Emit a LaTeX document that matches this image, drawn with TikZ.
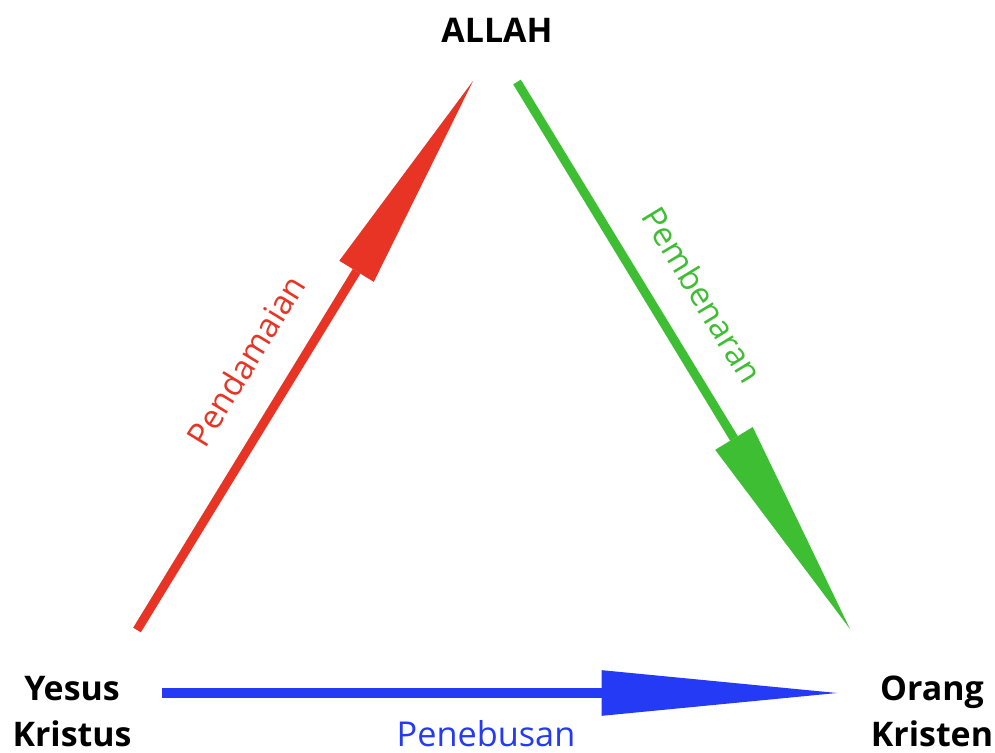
\documentclass[tikz,border=0pt]{standalone}
\usepackage{fontspec}
\setmainfont{Open Sans}
\usepackage{xcolor}
\usepackage{tikz}
\usetikzlibrary{arrows.meta,positioning}

\definecolor{damaired}{RGB}{232,52,36}
\definecolor{benargreen}{RGB}{62,190,50}
\definecolor{tebusblue}{RGB}{36,58,244}

\begin{document}
\begin{tikzpicture}[x=0.02cm,y=-0.02cm,
    who/.style={font=\fontsize{19.3}{26}\selectfont\bfseries, align=center, inner sep=0pt},
    rel/.style={font=\fontsize{#1}{22}\selectfont, inner sep=0pt, text depth=0pt},
    rel/.default=18.8,
    fatarrow/.style n args={3}{line width=#1, line cap=butt,
        -{Triangle[length=#2, width=#3, line width=0pt]}}]
    \useasboundingbox (0,0) rectangle (995,753);

    % Three parties
    \node[who, anchor=base] (allah) at (497,43) {ALLAH};
    \node[who, anchor=base] (yesus) at (72,746) {Yesus\\Kristus};
    \node[who, anchor=base] (orang) at (932,746) {Orang\\Kristen};

    % Arrow ends (tail near the giver, tip near the receiver)
    \coordinate (damai0) at (137,630);
    \coordinate (damai1) at (473,81);
    \coordinate (benar0) at (517,82);
    \coordinate (benar1) at (850,629);
    \coordinate (tebus0) at (162,693);
    \coordinate (tebus1) at (837,693);

    % Yesus -> Allah
    \draw[fatarrow={5.1pt}{127pt}{23pt}, damaired] (damai0) -- node[rel, sloped, pos=0.445, above=17.6pt] {Pendamaian} (damai1);
    % Allah -> Orang Kristen
    \draw[fatarrow={5.1pt}{127pt}{25pt}, benargreen] (benar0) -- node[rel, sloped, pos=0.435, above=17.6pt] {Pembenaran} (benar1);
    % Yesus -> Orang Kristen
    \draw[fatarrow={5.7pt}{134pt}{26pt}, tebusblue] (tebus0) -- node[rel=19.5, pos=0.48, anchor=base, yshift=-30.6pt] {Penebusan} (tebus1);

\end{tikzpicture}
\end{document}
